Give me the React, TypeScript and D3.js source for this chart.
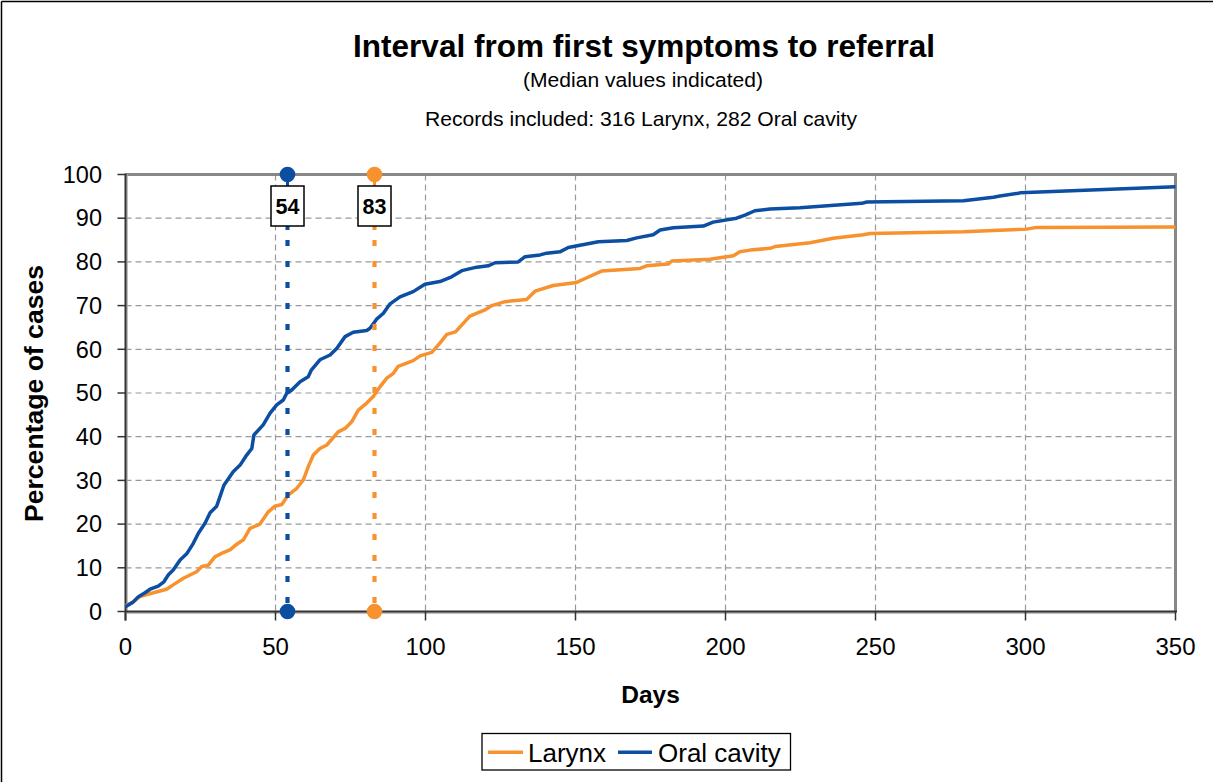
import React from "react";
import * as d3 from "d3";

const oralDays = [0, 2.6, 4.3, 6.5, 8.2, 10.9, 12.8, 14.3, 15.9, 18.2, 20.4, 22.6, 24.3, 26.5, 28.2, 30.4, 32.8, 35.9, 38.2, 40.4, 42.1, 42.8, 45.9, 48.2, 50.4, 52.6, 53.7, 55.4, 58.2, 60.9, 62, 64.8, 68.2, 70.4, 73.2, 75.9, 80.4, 81.5, 83.7, 85.9, 88.2, 91.5, 95.9, 99.8, 104.8, 108.7, 112.1, 117.1, 120.9, 123.2, 130.9, 133.2, 138.2, 140.4, 144.8, 147.6, 153.7, 157.6, 167.1, 170.4, 175.9, 178.2, 182.6, 192.6, 195.9, 203.7, 206.5, 209.8, 214.8, 224.8, 245.4, 247.1, 279.3, 289.3, 291.5, 297.6, 298.2, 350];
const oralPct = [1.1, 2.2, 3.4, 4.3, 5.1, 5.8, 6.8, 8.4, 9.5, 11.8, 13.2, 15.6, 17.9, 20.2, 22.6, 24.1, 28.9, 32.0, 33.5, 35.8, 37.3, 40.4, 42.7, 45.4, 47.3, 48.4, 49.9, 50.7, 52.6, 53.7, 55.3, 57.6, 58.7, 60.2, 62.9, 63.9, 64.3, 64.8, 66.9, 68.2, 70.4, 72.0, 73.2, 74.9, 75.5, 76.6, 78.0, 78.8, 79.1, 79.8, 80.0, 81.2, 81.6, 82.0, 82.3, 83.3, 84.1, 84.6, 84.9, 85.5, 86.2, 87.3, 87.8, 88.2, 89.1, 90.0, 90.7, 91.7, 92.1, 92.4, 93.4, 93.7, 94.0, 94.8, 95.1, 95.7, 95.8, 97.2];

const larynxDays = [0, 2.6, 4.8, 9.3, 13.7, 15.9, 19.3, 23.7, 25.4, 27.6, 29.8, 32.6, 34.8, 37.1, 39.3, 41.5, 44.8, 47.6, 49.8, 52.1, 54.3, 57.1, 59.3, 60.9, 62.6, 64.8, 67.1, 70.9, 73.2, 75.4, 77.6, 80.4, 82.6, 84.8, 87.1, 89.3, 90.9, 95.9, 98.2, 102.1, 104.8, 107.1, 110, 114.8, 119.8, 122.1, 126.5, 133.7, 136.5, 142.6, 150.4, 153.2, 158.7, 171.5, 173.7, 180.9, 182.1, 194.8, 202.6, 204.8, 208.2, 214.8, 216.5, 228.2, 235.9, 245.9, 248.2, 279.3, 300.4, 303.7, 350];
const larynxPct = [1.3, 2.2, 3.4, 4.3, 5.1, 6.1, 7.6, 9.1, 10.3, 10.6, 12.5, 13.5, 14.1, 15.4, 16.4, 19.0, 20.0, 22.8, 24.1, 24.5, 26.7, 28.2, 30.1, 33.1, 35.8, 37.3, 38.1, 41.1, 41.9, 43.4, 46.1, 47.7, 49.2, 51.4, 53.4, 54.5, 56.1, 57.4, 58.5, 59.3, 61.4, 63.4, 64.0, 67.6, 69.0, 70.0, 70.9, 71.4, 73.3, 74.6, 75.3, 76.2, 77.9, 78.5, 79.1, 79.5, 80.2, 80.6, 81.4, 82.3, 82.7, 83.1, 83.5, 84.4, 85.4, 86.2, 86.5, 86.9, 87.5, 87.9, 88.0];

const xTicks = [0, 50, 100, 150, 200, 250, 300, 350];
const yTicks = [0, 10, 20, 30, 40, 50, 60, 70, 80, 90, 100];
const medians = [
  { name: "Oral cavity", day: 54, color: "#0B4EA2" },
  { name: "Larynx", day: 83, color: "#F7922E" },
];
const seriesNames = ["Larynx", "Oral cavity"];

const BLUE = "#0B4EA2";
const ORANGE = "#F7922E";
const FONT = "'Liberation Sans', Arial, sans-serif";

export default function App() {
  const x = d3.scaleLinear().domain([0, 350]).range([125.5, 1175.5]);
  const y = d3.scaleLinear().domain([0, 100]).range([611.5, 174.5]);
  const line = d3
    .line<[number, number]>()
    .x((d) => x(d[0]))
    .y((d) => y(d[1]));
  const oral: [number, number][] = oralDays.map((d, i) => [d, oralPct[i]]);
  const larynx: [number, number][] = larynxDays.map((d, i) => [d, larynxPct[i]]);

  return (
    <svg
      width={1213}
      height={782}
      style={{ position: "absolute", left: 0, top: 0, background: "#fff" }}
      fontFamily={FONT}
    >
      <rect x={0} y={0} width={1213} height={782} fill="#fff" />
      <line x1={1.5} y1={1.5} x2={1213} y2={1.5} stroke="#000" strokeWidth={1.5} />
      <line x1={1.5} y1={1.5} x2={1.5} y2={782} stroke="#000" strokeWidth={1.5} />

      {/* Titles */}
      <text x={644} y={57} textAnchor="middle" fontSize={30.5} fontWeight="bold" textLength={582} lengthAdjust="spacingAndGlyphs">
        Interval from first symptoms to referral
      </text>
      <text x={643} y={87} textAnchor="middle" fontSize={20.5} textLength={240} lengthAdjust="spacingAndGlyphs">
        (Median values indicated)
      </text>
      <text x={641} y={126} textAnchor="middle" fontSize={21} textLength={432} lengthAdjust="spacingAndGlyphs">
        Records included: 316 Larynx, 282 Oral cavity
      </text>

      {/* Grid */}
      {yTicks.filter((t) => t > 0 && t < 100).map((t) => (
        <line key={"gy" + t} x1={x(0)} x2={x(350)} y1={y(t)} y2={y(t)} stroke="#999" strokeWidth={1.2} strokeDasharray="6 4" />
      ))}
      {xTicks.filter((t) => t > 0 && t < 350).map((t) => (
        <line key={"gx" + t} x1={x(t)} x2={x(t)} y1={y(100)} y2={y(0)} stroke="#999" strokeWidth={1.2} strokeDasharray="6 4" />
      ))}

      {/* Frame */}
      <line x1={x(0)} x2={x(350) + 1.5} y1={y(100)} y2={y(100)} stroke="#888" strokeWidth={3} />
      <line x1={x(350)} x2={x(350)} y1={y(100)} y2={y(0)} stroke="#888" strokeWidth={3} />
      <line x1={x(0) + 1.5} x2={x(350)} y1={y(0) + 1.5} y2={y(0) + 1.5} stroke="#aaa" strokeWidth={1.5} />
      <line x1={x(0) + 1.5} x2={x(0) + 1.5} y1={y(100)} y2={y(0)} stroke="#aaa" strokeWidth={1.5} />
      <line x1={x(0)} x2={x(350) + 1.5} y1={y(0)} y2={y(0)} stroke="#333" strokeWidth={2} />
      <line x1={x(0)} x2={x(0)} y1={y(100) - 1} y2={y(0) + 9} stroke="#333" strokeWidth={2} />

      {/* Ticks */}
      {yTicks.map((t) => (
        <g key={"yt" + t}>
          <line x1={x(0) - 8} x2={x(0)} y1={y(t)} y2={y(t)} stroke="#333" strokeWidth={1.5} />
          <text x={102} y={y(t)} dy="0.35em" textAnchor="end" fontSize={23.5}>
            {t}
          </text>
        </g>
      ))}
      {xTicks.map((t) => (
        <g key={"xt" + t}>
          <line x1={x(t)} x2={x(t)} y1={y(0)} y2={y(0) + 9} stroke="#333" strokeWidth={1.5} />
          <text x={x(t)} y={655} textAnchor="middle" fontSize={24}>
            {t}
          </text>
        </g>
      ))}

      {/* Axis titles */}
      <text x={650.5} y={703} textAnchor="middle" fontSize={24.5} fontWeight="bold">
        Days
      </text>
      <text
        transform={`translate(43,393.5) rotate(-90)`}
        textAnchor="middle"
        fontSize={25.5}
        fontWeight="bold"
        textLength={257}
        lengthAdjust="spacingAndGlyphs"
      >
        Percentage of cases
      </text>

      {/* Series */}
      <path d={line(larynx) || ""} fill="none" stroke={ORANGE} strokeWidth={3.5} strokeLinejoin="round" />
      <path d={line(oral) || ""} fill="none" stroke={BLUE} strokeWidth={3.5} strokeLinejoin="round" />

      {/* Median markers */}
      {medians.map((m) => {
        const mx = x(m.day);
        return (
          <g key={m.name}>
            <line x1={mx} x2={mx} y1={y(100)} y2={190} stroke={m.color} strokeWidth={3} />
            <line x1={mx} x2={mx} y1={224} y2={230} stroke={m.color} strokeWidth={4} />
            <line x1={mx} x2={mx} y1={240} y2={604} stroke={m.color} strokeWidth={4.2} strokeDasharray="6 15" />
            <circle cx={mx} cy={y(100)} r={7.8} fill={m.color} />
            <circle cx={mx} cy={y(0)} r={7.8} fill={m.color} />
            <rect x={mx - 16.5} y={186} width={33} height={40} fill="#fff" stroke="#000" strokeWidth={1.5} />
            <text x={mx} y={206} dy="0.36em" textAnchor="middle" fontSize={21.5} fontWeight="bold">
              {m.day}
            </text>
          </g>
        );
      })}

      {/* Legend */}
      <rect x={482} y={733.5} width={308.5} height={36.5} fill="#fff" stroke="#000" strokeWidth={1.3} />
      <line x1={488} x2={523} y1={752.3} y2={752.3} stroke={ORANGE} strokeWidth={3.5} />
      <text x={528} y={761.5} fontSize={26}>
        {seriesNames[0]}
      </text>
      <line x1={618} x2={652} y1={752.3} y2={752.3} stroke={BLUE} strokeWidth={3.5} />
      <text x={658} y={761.5} fontSize={26}>
        {seriesNames[1]}
      </text>
    </svg>
  );
}
